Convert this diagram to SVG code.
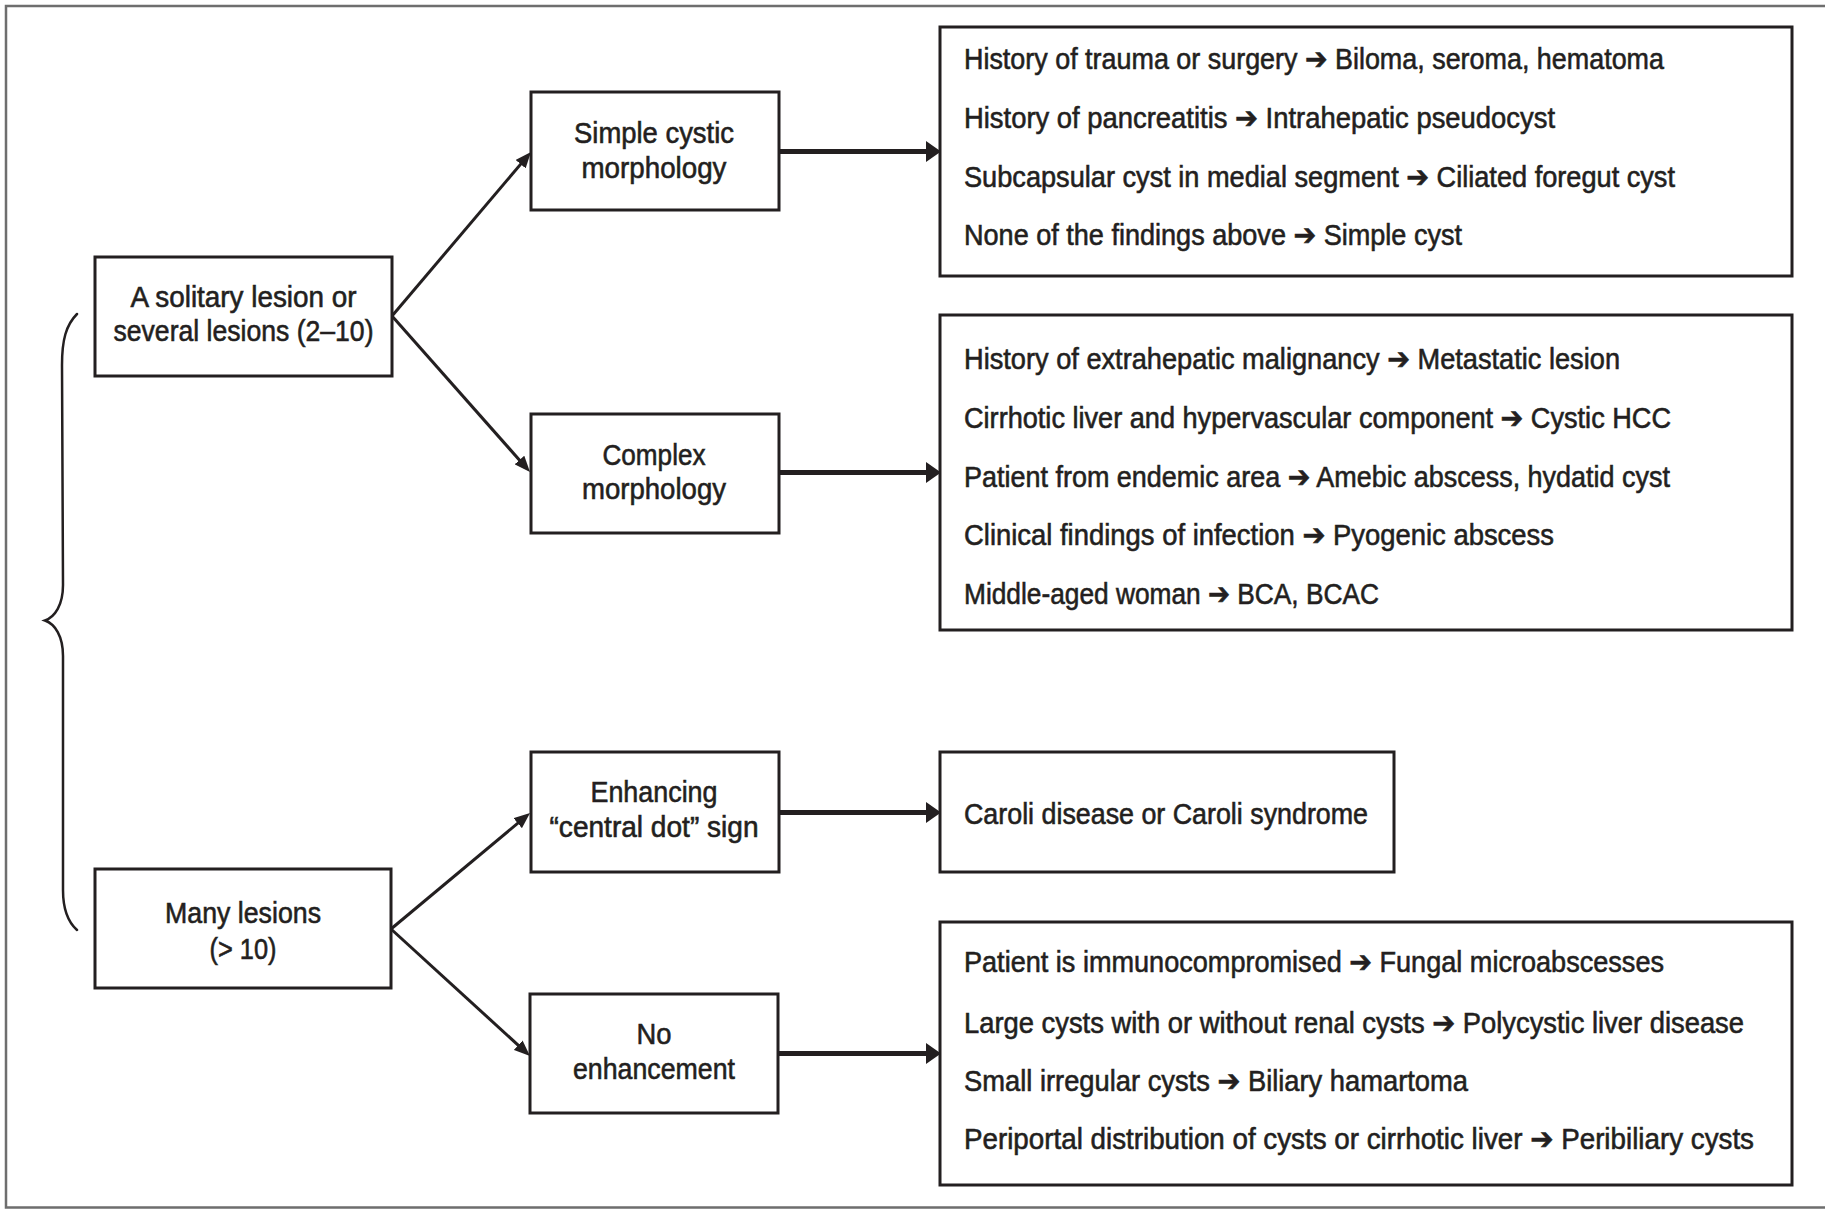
<svg xmlns="http://www.w3.org/2000/svg" width="1825" height="1211" viewBox="0 0 1825 1211">
<defs>
<style>
.frame{fill:none;stroke:#6e6e6e;stroke-width:2.5}
.box{fill:#fff;stroke:#231f20;stroke-width:3}
.t{font-family:"Liberation Sans","DejaVu Sans",sans-serif;font-size:30px;fill:#231f20;stroke:#231f20;stroke-width:0.6}
.c{text-anchor:middle}
.thin{fill:none;stroke:#231f20;stroke-width:3}
.thick{fill:none;stroke:#231f20;stroke-width:5}
.brace{fill:none;stroke:#231f20;stroke-width:2.5;stroke-linecap:round}
</style>
<marker id="ah" markerUnits="userSpaceOnUse" markerWidth="16" markerHeight="13" refX="8" refY="6.5" orient="auto">
<path d="M0,0 L16,6.5 L0,13 z" fill="#231f20"/>
</marker>
<marker id="ahb" markerUnits="userSpaceOnUse" markerWidth="15" markerHeight="21" refX="7" refY="10.5" orient="auto">
<path d="M0,0 L15,10.5 L0,21 z" fill="#231f20"/>
</marker>
</defs>
<rect width="1825" height="1211" fill="#fff"/>
<path class="frame" d="M1825,6 L6,6 L6,1207.5 L1825,1207.5"/>
<path class="brace" d="M77,314 C66,325 62,340 62,365 L63,585 C63,605 55,617 45,620.5 C55,624 63,636 63,656 L63,890 C63,908 68,922 77,930"/>

<g id="connectors">
<path class="thin" d="M392,316 L525.8,158.1" marker-end="url(#ah)"/>
<path class="thin" d="M392,316 L524.7,466" marker-end="url(#ah)"/>
<path class="thin" d="M391,929 L523.9,818.1" marker-end="url(#ah)"/>
<path class="thin" d="M391,929 L524.1,1050.6" marker-end="url(#ah)"/>
<path class="thick" d="M779,151.5 L933,151.5" marker-end="url(#ahb)"/>
<path class="thick" d="M779,472.5 L933,472.5" marker-end="url(#ahb)"/>
<path class="thick" d="M779,812.5 L933,812.5" marker-end="url(#ahb)"/>
<path class="thick" d="M778,1053.5 L933,1053.5" marker-end="url(#ahb)"/>
</g>

<g id="n-solitary">
<rect class="box" x="95" y="257" width="297" height="119"/>
<text class="t c" x="243.5" y="307" textLength="226" lengthAdjust="spacingAndGlyphs">A solitary lesion or</text>
<text class="t c" x="243.5" y="341" textLength="260" lengthAdjust="spacingAndGlyphs">several lesions (2–10)</text>
</g>
<g id="n-simple">
<rect class="box" x="531" y="92" width="248" height="118"/>
<text class="t c" x="654" y="143" textLength="160" lengthAdjust="spacingAndGlyphs">Simple cystic</text>
<text class="t c" x="654" y="178" textLength="145" lengthAdjust="spacingAndGlyphs">morphology</text>
</g>
<g id="n-complex">
<rect class="box" x="531" y="414" width="248" height="119"/>
<text class="t c" x="654" y="464.5" textLength="103" lengthAdjust="spacingAndGlyphs">Complex</text>
<text class="t c" x="654" y="499" textLength="144" lengthAdjust="spacingAndGlyphs">morphology</text>
</g>
<g id="n-many">
<rect class="box" x="95" y="869" width="296" height="119"/>
<text class="t c" x="243" y="923" textLength="156" lengthAdjust="spacingAndGlyphs">Many lesions</text>
<text class="t c" x="243" y="959" textLength="67" lengthAdjust="spacingAndGlyphs">(&gt; 10)</text>
</g>
<g id="n-enhancing">
<rect class="box" x="531" y="752" width="248" height="120"/>
<text class="t c" x="654" y="802" textLength="127" lengthAdjust="spacingAndGlyphs">Enhancing</text>
<text class="t c" x="654" y="837" textLength="209" lengthAdjust="spacingAndGlyphs">“central dot” sign</text>
</g>
<g id="n-noenh">
<rect class="box" x="530" y="994" width="248" height="119"/>
<text class="t c" x="654" y="1044" textLength="35" lengthAdjust="spacingAndGlyphs">No</text>
<text class="t c" x="654" y="1079" textLength="162" lengthAdjust="spacingAndGlyphs">enhancement</text>
</g>

<g id="r-simple">
<rect class="box" x="940" y="27" width="852" height="249"/>
<text class="t" x="964" y="68.5" textLength="700" lengthAdjust="spacingAndGlyphs">History of trauma or surgery ➔ Biloma, seroma, hematoma</text>
<text class="t" x="964" y="128" textLength="591" lengthAdjust="spacingAndGlyphs">History of pancreatitis ➔ Intrahepatic pseudocyst</text>
<text class="t" x="964" y="186.5" textLength="711" lengthAdjust="spacingAndGlyphs">Subcapsular cyst in medial segment ➔ Ciliated foregut cyst</text>
<text class="t" x="964" y="244.5" textLength="498" lengthAdjust="spacingAndGlyphs">None of the findings above ➔ Simple cyst</text>
</g>
<g id="r-complex">
<rect class="box" x="940" y="315" width="852" height="315"/>
<text class="t" x="964" y="369" textLength="656" lengthAdjust="spacingAndGlyphs">History of extrahepatic malignancy ➔ Metastatic lesion</text>
<text class="t" x="964" y="428" textLength="707" lengthAdjust="spacingAndGlyphs">Cirrhotic liver and hypervascular component ➔ Cystic HCC</text>
<text class="t" x="964" y="486.5" textLength="706" lengthAdjust="spacingAndGlyphs">Patient from endemic area ➔ Amebic abscess, hydatid cyst</text>
<text class="t" x="964" y="545" textLength="590" lengthAdjust="spacingAndGlyphs">Clinical findings of infection ➔ Pyogenic abscess</text>
<text class="t" x="964" y="603.5" textLength="415" lengthAdjust="spacingAndGlyphs">Middle-aged woman ➔ BCA, BCAC</text>
</g>
<g id="r-caroli">
<rect class="box" x="940" y="752" width="454" height="120"/>
<text class="t" x="964" y="824" textLength="404" lengthAdjust="spacingAndGlyphs">Caroli disease or Caroli syndrome</text>
</g>
<g id="r-noenh">
<rect class="box" x="940" y="922" width="852" height="263"/>
<text class="t" x="964" y="972" textLength="700" lengthAdjust="spacingAndGlyphs">Patient is immunocompromised ➔ Fungal microabscesses</text>
<text class="t" x="964" y="1032.5" textLength="780" lengthAdjust="spacingAndGlyphs">Large cysts with or without renal cysts ➔ Polycystic liver disease</text>
<text class="t" x="964" y="1091" textLength="504" lengthAdjust="spacingAndGlyphs">Small irregular cysts ➔ Biliary hamartoma</text>
<text class="t" x="964" y="1149" textLength="790" lengthAdjust="spacingAndGlyphs">Periportal distribution of cysts or cirrhotic liver ➔ Peribiliary cysts</text>
</g>
</svg>
